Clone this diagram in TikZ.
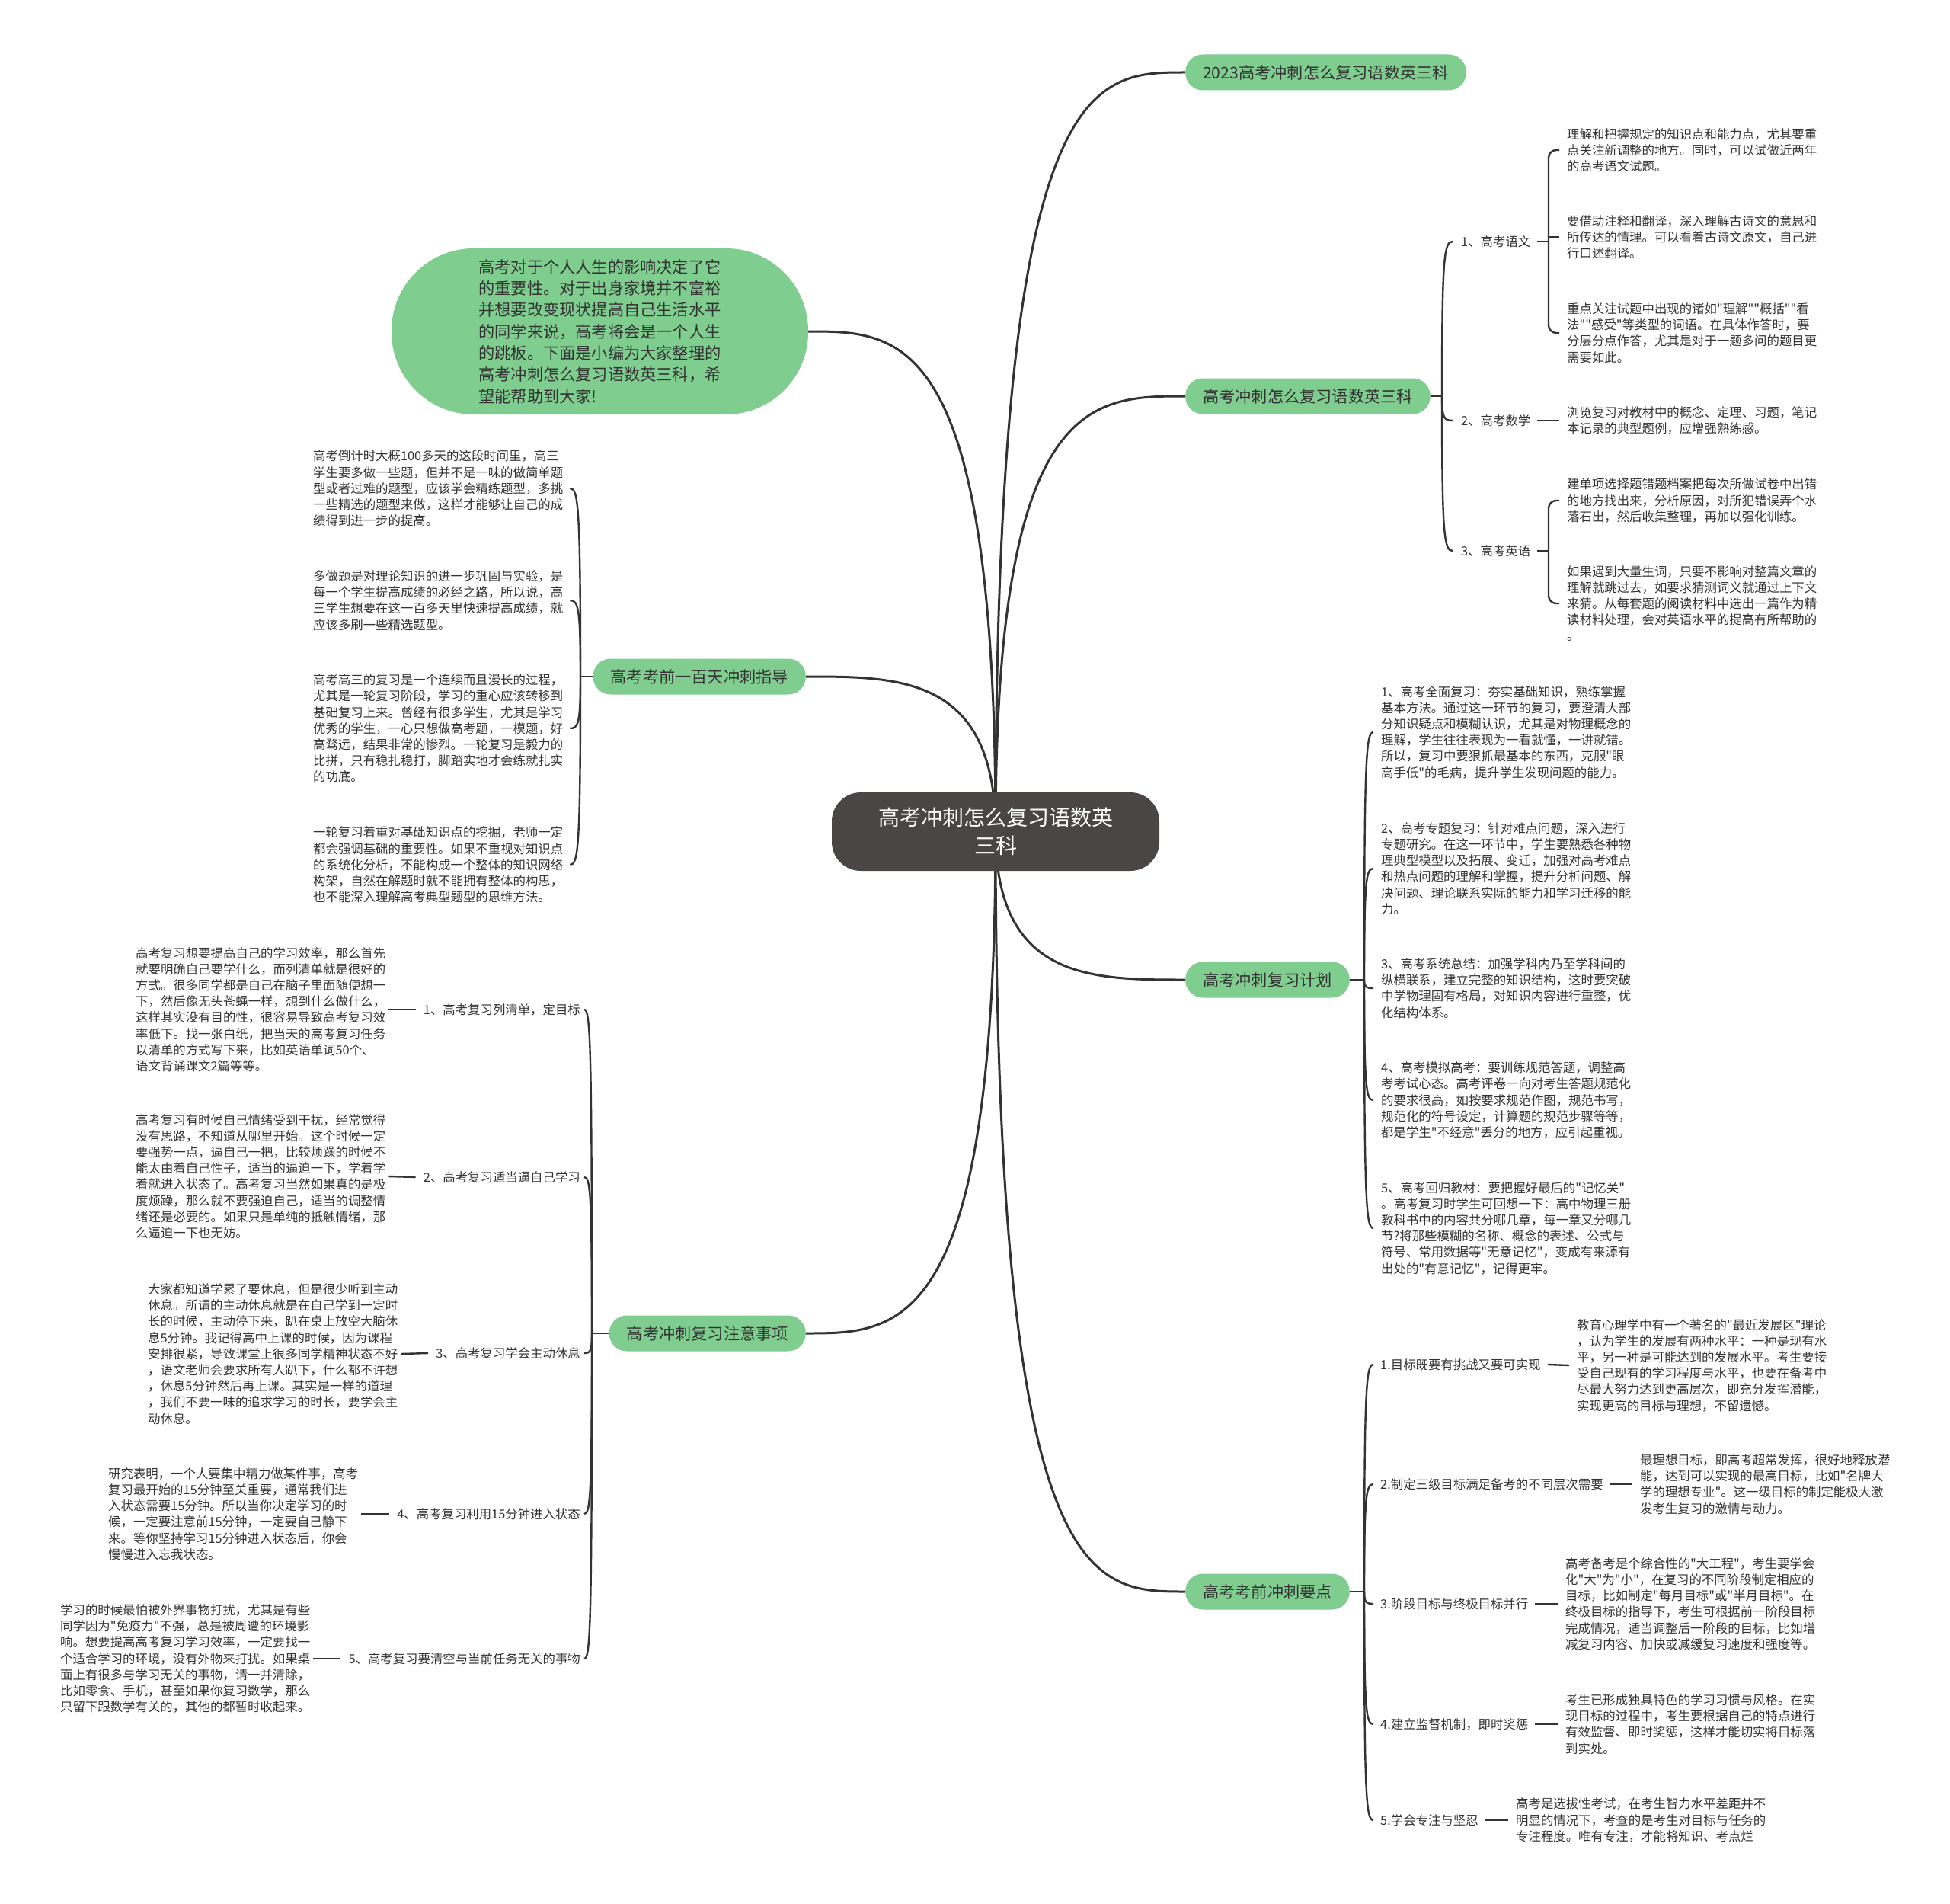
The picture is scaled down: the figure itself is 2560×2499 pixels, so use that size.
\documentclass[tikz,border=0pt]{standalone}
\usepackage{fontspec}
\setmainfont{Noto Sans CJK SC}[Ligatures=TeXOff]
\usetikzlibrary{calc,backgrounds}
\definecolor{pillg}{RGB}{127,205,143}
\definecolor{rootc}{RGB}{74,70,70}
\definecolor{linec}{RGB}{51,51,51}
\definecolor{txt}{RGB}{51,51,51}
\newcommand\curl[2]{\coordinate (cq) at (#1|-#2); \draw[trunkline] (#1) .. controls ($(#1)!0.9!(cq)$) and ($(cq)!0.2!(#2)$) .. (#2);}
\newcommand\mainc[2]{\coordinate (mq) at (#1|-#2); \draw[mainline] (#1) .. controls (mq) and ($(mq)!0.5!(#2)$) .. (#2);}
\begin{document}
\begin{tikzpicture}[x=1pt,y=-1pt,
 leaf/.style={inner sep=0pt, align=left, text=txt, font=\fontsize{16.4pt}{21.2pt}\selectfont},
 lab/.style={inner sep=0pt, text=txt, font=\fontsize{16.4pt}{21.2pt}\selectfont},
 pill/.style={fill=pillg, rounded corners=23pt, minimum height=47pt, inner xsep=23pt, inner ysep=0pt, text=txt, font=\fontsize{21.2pt}{28pt}\selectfont},
 bubble/.style={fill=pillg, rounded corners=108pt, minimum width=547pt, minimum height=218pt, inner sep=0pt, align=left, text=txt, font=\fontsize{21.2pt}{28.3pt}\selectfont},
 rootbox/.style={fill=rootc, rounded corners=38pt, minimum width=430pt, minimum height=103pt, inner sep=0pt, align=center, text=white, font=\fontsize{28pt}{37pt}\selectfont},
 mainline/.style={draw=linec, line width=3pt},
 trunkline/.style={draw=linec, line width=2.4pt},
]
\useasboundingbox (0,0) rectangle (2560,2499);

% ---------- root and branches ----------
\node[rootbox] (root) at (1307,1091.5) {高考冲刺怎么复习语数英\\三科};
\node[pill, anchor=west] (r1) at (1556,95) {2023高考冲刺怎么复习语数英三科};
\node[pill, anchor=west] (r2) at (1556,520) {高考冲刺怎么复习语数英三科};
\node[pill, anchor=west] (r3) at (1556,1286) {高考冲刺复习计划};
\node[pill, anchor=west] (r4) at (1556,2089) {高考考前冲刺要点};
\node[pill, anchor=east] (l1) at (1058,888) {高考考前一百天冲刺指导};
\node[pill, anchor=east] (l2) at (1058,1750) {高考冲刺复习注意事项};
\node[bubble] (bub) at (787.5,435) {高考对于个人人生的影响决定了它\\的重要性。对于出身家境并不富裕\\并想要改变现状提高自己生活水平\\的同学来说，高考将会是一个人生\\的跳板。下面是小编为大家整理的\\高考冲刺怎么复习语数英三科，希\\望能帮助到大家!};

% ---------- left branch 1 ----------
\node[leaf, anchor=west] (l1a) at (411,641) {高考倒计时大概100多天的这段时间里，高三\\学生要多做一些题，但并不是一味的做简单题\\型或者过难的题型，应该学会精练题型，多挑\\一些精选的题型来做，这样才能够让自己的成\\绩得到进一步的提高。};
\node[leaf, anchor=west] (l1b) at (411,788) {多做题是对理论知识的进一步巩固与实验，是\\每一个学生提高成绩的必经之路，所以说，高\\三学生想要在这一百多天里快速提高成绩，就\\应该多刷一些精选题型。};
\node[leaf, anchor=west] (l1c) at (411,956) {高考高三的复习是一个连续而且漫长的过程，\\尤其是一轮复习阶段，学习的重心应该转移到\\基础复习上来。曾经有很多学生，尤其是学习\\优秀的学生，一心只想做高考题，一模题，好\\高骛远，结果非常的惨烈。一轮复习是毅力的\\比拼，只有稳扎稳打，脚踏实地才会练就扎实\\的功底。};
\node[leaf, anchor=west] (l1d) at (411,1135) {一轮复习着重对基础知识点的挖掘，老师一定\\都会强调基础的重要性。如果不重视对知识点\\的系统化分析，不能构成一个整体的知识网络\\构架，自然在解题时就不能拥有整体的构思，\\也不能深入理解高考典型题型的思维方法。};

% ---------- left branch 2 ----------
\node[lab, anchor=east] (l2p1) at (762,1325) {1、高考复习列清单，定目标};
\node[leaf, anchor=west] (l2a) at (178,1325) {高考复习想要提高自己的学习效率，那么首先\\就要明确自己要学什么，而列清单就是很好的\\方式。很多同学都是自己在脑子里面随便想一\\下，然后像无头苍蝇一样，想到什么做什么，\\这样其实没有目的性，很容易导致高考复习效\\率低下。找一张白纸，把当天的高考复习任务\\以清单的方式写下来，比如英语单词50个、\\语文背诵课文2篇等等。};
\node[lab, anchor=east] (l2p2) at (762,1545) {2、高考复习适当逼自己学习};
\node[leaf, anchor=west] (l2b) at (178,1544) {高考复习有时候自己情绪受到干扰，经常觉得\\没有思路，不知道从哪里开始。这个时候一定\\要强势一点，逼自己一把，比较烦躁的时候不\\能太由着自己性子，适当的逼迫一下，学着学\\着就进入状态了。高考复习当然如果真的是极\\度烦躁，那么就不要强迫自己，适当的调整情\\绪还是必要的。如果只是单纯的抵触情绪，那\\么逼迫一下也无妨。};
\node[lab, anchor=east] (l2p3) at (762,1776) {3、高考复习学会主动休息};
\node[leaf, anchor=west] (l2c) at (194,1777) {大家都知道学累了要休息，但是很少听到主动\\休息。所谓的主动休息就是在自己学到一定时\\长的时候，主动停下来，趴在桌上放空大脑休\\息5分钟。我记得高中上课的时候，因为课程\\安排很紧，导致课堂上很多同学精神状态不好\\，语文老师会要求所有人趴下，什么都不许想\\，休息5分钟然后再上课。其实是一样的道理\\，我们不要一味的追求学习的时长，要学会主\\动休息。};
\node[lab, anchor=east] (l2p4) at (762,1987) {4、高考复习利用15分钟进入状态};
\node[leaf, anchor=west] (l2d) at (142,1987) {研究表明，一个人要集中精力做某件事，高考\\复习最开始的15分钟至关重要，通常我们进\\入状态需要15分钟。所以当你决定学习的时\\候，一定要注意前15分钟，一定要自己静下\\来。等你坚持学习15分钟进入状态后，你会\\慢慢进入忘我状态。};
\node[lab, anchor=east] (l2p5) at (762,2177) {5、高考复习要清空与当前任务无关的事物};
\node[leaf, anchor=west] (l2e) at (79,2177) {学习的时候最怕被外界事物打扰，尤其是有些\\同学因为"免疫力"不强，总是被周遭的环境影\\响。想要提高高考复习学习效率，一定要找一\\个适合学习的环境，没有外物来打扰。如果桌\\面上有很多与学习无关的事物，请一并清除，\\比如零食、手机，甚至如果你复习数学，那么\\只留下跟数学有关的，其他的都暂时收起来。};

% ---------- right branch 2 ----------
\node[lab, anchor=west] (r2p1) at (1918,317) {1、高考语文};
\node[lab, anchor=west] (r2p2) at (1918,552) {2、高考数学};
\node[lab, anchor=west] (r2p3) at (1918,723) {3、高考英语};
\node[leaf, anchor=west] (r2a) at (2057,197) {理解和把握规定的知识点和能力点，尤其要重\\点关注新调整的地方。同时，可以试做近两年\\的高考语文试题。};
\node[leaf, anchor=west] (r2b) at (2057,311) {要借助注释和翻译，深入理解古诗文的意思和\\所传达的情理。可以看着古诗文原文，自己进\\行口述翻译。};
\node[leaf, anchor=west] (r2c) at (2057,437) {重点关注试题中出现的诸如"理解""概括""看\\法""感受"等类型的词语。在具体作答时，要\\分层分点作答，尤其是对于一题多问的题目更\\需要如此。};
\node[leaf, anchor=west] (r2d) at (2057,552) {浏览复习对教材中的概念、定理、习题，笔记\\本记录的典型题例，应增强熟练感。};
\node[leaf, anchor=west] (r2e) at (2057,657) {建单项选择题错题档案把每次所做试卷中出错\\的地方找出来，分析原因，对所犯错误弄个水\\落石出，然后收集整理，再加以强化训练。};
\node[leaf, anchor=west] (r2f) at (2057,792) {如果遇到大量生词，只要不影响对整篇文章的\\理解就跳过去，如要求猜测词义就通过上下文\\来猜。从每套题的阅读材料中选出一篇作为精\\读材料处理，会对英语水平的提高有所帮助的\\。};

% ---------- right branch 3 ----------
\node[leaf, anchor=west] (r3a) at (1813,961) {1、高考全面复习：夯实基础知识，熟练掌握\\基本方法。通过这一环节的复习，要澄清大部\\分知识疑点和模糊认识，尤其是对物理概念的\\理解，学生往往表现为一看就懂，一讲就错。\\所以，复习中要狠抓最基本的东西，克服"眼\\高手低"的毛病，提升学生发现问题的能力。};
\node[leaf, anchor=west] (r3b) at (1813,1140) {2、高考专题复习：针对难点问题，深入进行\\专题研究。在这一环节中，学生要熟悉各种物\\理典型模型以及拓展、变迁，加强对高考难点\\和热点问题的理解和掌握，提升分析问题、解\\决问题、理论联系实际的能力和学习迁移的能\\力。};
\node[leaf, anchor=west] (r3c) at (1813,1297) {3、高考系统总结：加强学科内乃至学科间的\\纵横联系，建立完整的知识结构，这时要突破\\中学物理固有格局，对知识内容进行重整，优\\化结构体系。};
\node[leaf, anchor=west] (r3d) at (1813,1444) {4、高考模拟高考：要训练规范答题，调整高\\考考试心态。高考评卷一向对考生答题规范化\\的要求很高，如按要求规范作图，规范书写，\\规范化的符号设定，计算题的规范步骤等等，\\都是学生"不经意"丢分的地方，应引起重视。};
\node[leaf, anchor=west] (r3e) at (1813,1612) {5、高考回归教材：要把握好最后的"记忆关"\\。高考复习时学生可回想一下：高中物理三册\\教科书中的内容共分哪几章，每一章又分哪几\\节?将那些模糊的名称、概念的表述、公式与\\符号、常用数据等"无意记忆"，变成有来源有\\出处的"有意记忆"，记得更牢。};

% ---------- right branch 4 ----------
\node[lab, anchor=west] (r4p1) at (1812,1791) {1.目标既要有挑战又要可实现};
\node[leaf, anchor=west] (r4a) at (2070,1792) {教育心理学中有一个著名的"最近发展区"理论\\，认为学生的发展有两种水平：一种是现有水\\平，另一种是可能达到的发展水平。考生要接\\受自己现有的学习程度与水平，也要在备考中\\尽最大努力达到更高层次，即充分发挥潜能，\\实现更高的目标与理想，不留遗憾。};
\node[lab, anchor=west] (r4p2) at (1812,1948) {2.制定三级目标满足备考的不同层次需要};
\node[leaf, anchor=west] (r4b) at (2153,1948) {最理想目标，即高考超常发挥，很好地释放潜\\能，达到可以实现的最高目标，比如"名牌大\\学的理想专业"。这一级目标的制定能极大激\\发考生复习的激情与动力。};
\node[lab, anchor=west] (r4p3) at (1812,2105) {3.阶段目标与终极目标并行};
\node[leaf, anchor=west] (r4c) at (2055,2105) {高考备考是个综合性的"大工程"，考生要学会\\化"大"为"小"，在复习的不同阶段制定相应的\\目标，比如制定"每月目标"或"半月目标"。在\\终极目标的指导下，考生可根据前一阶段目标\\完成情况，适当调整后一阶段的目标，比如增\\减复习内容、加快或减缓复习速度和强度等。};
\node[lab, anchor=west] (r4p4) at (1812,2263) {4.建立监督机制，即时奖惩};
\node[leaf, anchor=west] (r4d) at (2055,2263) {考生已形成独具特色的学习习惯与风格。在实\\现目标的过程中，考生要根据自己的特点进行\\有效监督、即时奖惩，这样才能切实将目标落\\到实处。};
\node[lab, anchor=west] (r4p5) at (1812,2389) {5.学会专注与坚忍};
\node[leaf, anchor=west] (r4e) at (1990,2389) {高考是选拔性考试，在考生智力水平差距并不\\明显的情况下，考查的是考生对目标与任务的\\专注程度。唯有专注，才能将知识、考点烂};

% ---------- connectors ----------
\begin{scope}[on background layer]
\fill[white] (0,0) rectangle (2560,2499);
\mainc{root.center}{r1.west}
\mainc{root.center}{r2.west}
\mainc{root.center}{r3.west}
\mainc{root.center}{r4.west}
\mainc{root.center}{l1.east}
\mainc{root.center}{l2.east}
\mainc{root.center}{bub.east}

% junctions
\coordinate (jl1) at (762,888);
\coordinate (jl2) at (777,1750);
\coordinate (jr2) at (1893,520);
\coordinate (jr3) at (1791,1286);
\coordinate (jr4) at (1791,2089);
\draw[trunkline] (l1.west) -- (jl1);
\draw[trunkline] (l2.west) -- (jl2);
\draw[trunkline] (r2.east) -- (jr2);
\draw[trunkline] (r3.east) -- (jr3);
\draw[trunkline] (r4.east) -- (jr4);

% left 1
\foreach \n in {l1a,l1b,l1c,l1d}{
  \coordinate (e\n) at ($(\n.east)+(9,0)$);
  \curl{jl1}{e\n}
}
% left 2
\foreach \n/\m in {l2p1/l2a,l2p2/l2b,l2p3/l2c,l2p4/l2d,l2p5/l2e}{
  \coordinate (e\n) at ($(\n.east)+(5,0)$);
  \curl{jl2}{e\n}
  \draw[trunkline] ($(\m.east)+(4,0)$) -- ($(\n.west)+(-10,0)$);
}
% right 2
\foreach \n in {r2p1,r2p2,r2p3}{
  \coordinate (e\n) at ($(\n.west)+(-11,0)$);
  \curl{jr2}{e\n}
}
\draw[trunkline, rounded corners=10pt] ($(r2a.west)+(-10,0)$) -| (2033,437) -- ($(r2c.west)+(-10,0)$);
\draw[trunkline] (2033,311) -- ($(r2b.west)+(-10,0)$);
\draw[trunkline] ($(r2p1.east)+(8,0)$) -- (2033,317);
\draw[trunkline] ($(r2p2.east)+(8,0)$) -- ($(r2d.west)+(-10,0)$);
\draw[trunkline, rounded corners=10pt] ($(r2e.west)+(-10,0)$) -| (2033,792) -- ($(r2f.west)+(-10,0)$);
\draw[trunkline] ($(r2p3.east)+(8,0)$) -- (2033,723);
% right 3
\foreach \n in {r3a,r3b,r3c,r3d,r3e}{
  \coordinate (e\n) at ($(\n.west)+(-10,0)$);
  \curl{jr3}{e\n}
}
% right 4
\foreach \n/\m in {r4p1/r4a,r4p2/r4b,r4p3/r4c,r4p4/r4d,r4p5/r4e}{
  \coordinate (e\n) at ($(\n.west)+(-9,0)$);
  \curl{jr4}{e\n}
  \draw[trunkline] ($(\n.east)+(9,0)$) -- ($(\m.west)+(-10,0)$);
}
\end{scope}
\end{tikzpicture}
\end{document}
